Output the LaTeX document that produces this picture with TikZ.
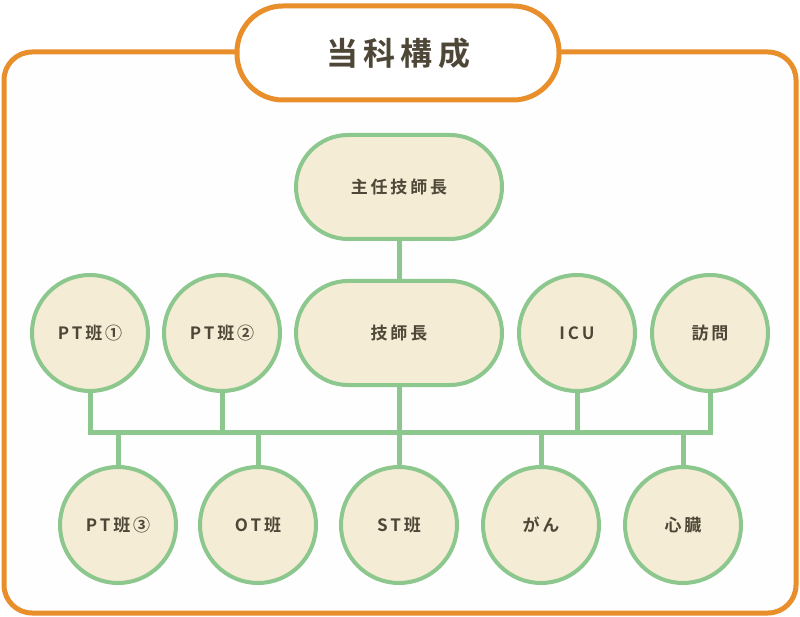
\documentclass[tikz,border=0pt]{standalone}
\usepackage{fontspec}
\newfontfamily\cjk{Noto Sans CJK JP}[BoldFont={* Bold}]
\definecolor{org}{HTML}{E88E2A}
\definecolor{grn}{HTML}{8CC78E}
\definecolor{crm}{HTML}{F5ECD6}
\definecolor{txt}{HTML}{4E4636}
\tikzset{
  unit/.style={draw=grn,line width=4pt,fill=crm,text=txt,font=\cjk\bfseries\fontsize{17}{20}\selectfont},
  circ/.style={unit,circle,minimum size=116pt,inner sep=0pt},
  pill/.style={unit,rounded corners=52pt,minimum width=206pt,minimum height=104pt},
  link/.style={draw=grn,line width=5pt}
}
\begin{document}
\begin{tikzpicture}[x=1pt,y=-1pt]
\useasboundingbox (0,0) rectangle (800,617);
\fill[white] (0,0) rectangle (800,617);
\draw[org,line width=5pt,fill=white!97!crm,rounded corners=28pt] (4,52) rectangle (796,613);
\node[draw=org,line width=5pt,fill=white,rounded corners=46pt,minimum width=322pt,minimum height=94pt,text=txt,font=\cjk\bfseries\fontsize{32}{36}\selectfont] (title) at (398,53) {当\,科\,構\,成};
\coordinate (bl) at (90,432);
\coordinate (br) at (710,432);
\draw[link] (bl) -- (br);
\node[pill] (a) at (399,187) {主\,任\,技\,師\,長};
\node[pill] (b) at (399,333) {技\,師\,長};
\draw[link] (a) -- (b);
\draw[link] (b) -- (399,432);
\foreach \n/\x/\t in {p1/90/{P\,T\,班\,①},p2/222/{P\,T\,班\,②},i/577/{I\,C\,U},h/710/{訪\,問}}{
  \node[circ] (\n) at (\x,333) {\t};
  \draw[link] (\n) -- (\x,434.5);
}
\foreach \n/\x/\t in {q1/118/{P\,T\,班\,③},q2/258/{O\,T\,班},q3/399/{S\,T\,班},q4/541/{が\,ん},q5/683/{心\,臓}}{
  \node[circ] (\n) at (\x,525) {\t};
  \draw[link] (\n) -- (\x,429.5);
}
\end{tikzpicture}
\end{document}
